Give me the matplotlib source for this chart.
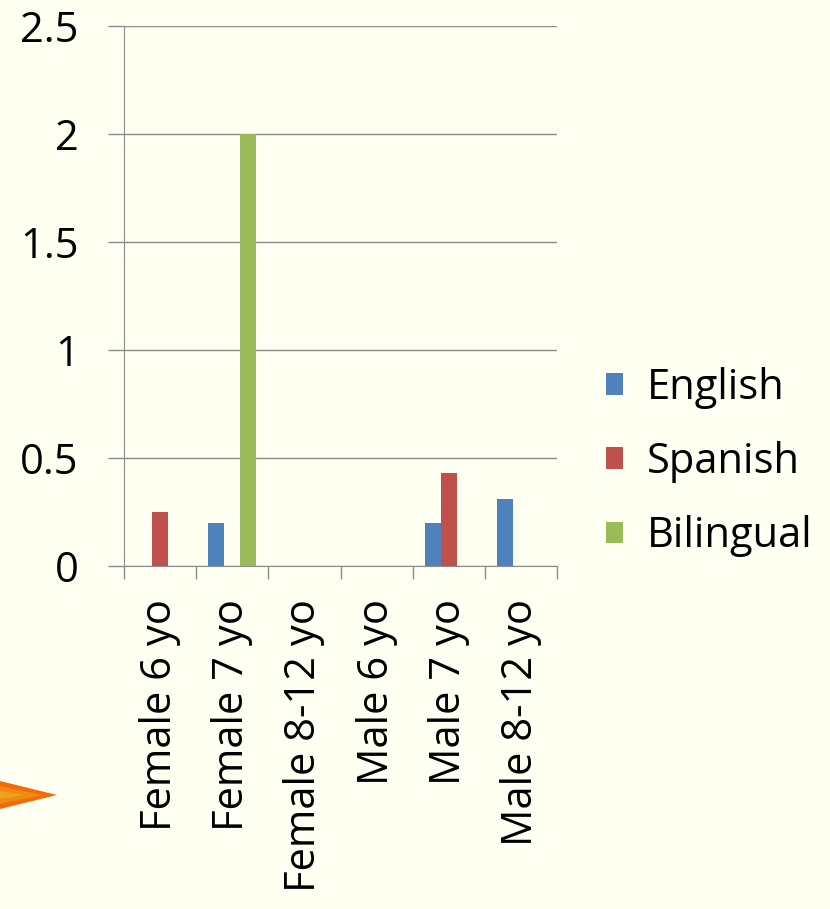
import numpy as np
import matplotlib
matplotlib.use("Agg")
import matplotlib.pyplot as plt
from matplotlib.patches import Polygon

# DATA
categories = ["Female 6 yo", "Female 7 yo", "Female 8-12 yo",
              "Male 6 yo", "Male 7 yo", "Male 8-12 yo"]
english   = [0, 0.2, 0, 0, 0.2, 0.31]
spanish   = [0.25, 0, 0, 0, 0.43, 0]
bilingual = [0, 2.0, 0, 0, 0, 0]
series_names = ["English", "Spanish", "Bilingual"]
yticks = [0, 0.5, 1, 1.5, 2, 2.5]
ytick_labels = ["0", "0.5", "1", "1.5", "2", "2.5"]

BG     = "#FFFFF2"
COLORS = ["#4F81BD", "#C0504D", "#9BBB59"]
GRID   = "#8C8C8C"
FS     = 30

plt.rcParams["font.family"] = ["Open Sans", "DejaVu Sans"]

fig = plt.figure(figsize=(8.30, 9.09), dpi=100, facecolor=BG)
ax = fig.add_axes([0.1494, 0.3773, 0.5217, 0.5941], facecolor=BG)

x = np.arange(len(categories))
w = 0.222
for i, (vals, name, col) in enumerate(zip([english, spanish, bilingual], series_names, COLORS)):
    ax.bar(x + (i - 1) * w, vals, width=w, color=col, label=name,
           edgecolor="none", zorder=3)

ax.set_xlim(-0.5, len(categories) - 0.5)
ax.set_ylim(0, 2.5)
ax.set_yticks(yticks)
ax.set_yticklabels(ytick_labels)
ax.yaxis.grid(True, color=GRID, lw=1.0)
ax.set_axisbelow(True)

# category separators as major ticks, labels on minor ticks
ax.set_xticks(np.arange(len(categories) + 1) - 0.5)
ax.set_xticklabels([])
ax.set_xticks(x, minor=True)
ax.set_xticklabels(categories, minor=True, rotation=90, fontsize=FS)
ax.tick_params(axis="x", which="minor", length=0, pad=24)
ax.tick_params(axis="x", which="major", length=9.5, color=GRID, width=1.0)
ax.tick_params(axis="y", length=11.5, color=GRID, width=1.0, labelsize=FS, pad=21)

for s in ["top", "right"]:
    ax.spines[s].set_visible(False)
ax.spines["left"].set_color(GRID)
ax.spines["bottom"].set_color(GRID)

ax.legend(loc="center left", bbox_to_anchor=(1.113, 0.1926), frameon=False,
          borderpad=0, borderaxespad=0,
          fontsize=FS, handlelength=0.41, handleheight=0.41, handletextpad=0.58,
          labelspacing=0.77)

# orange arrow decoration on the left
W, H = 830, 909
def fp(px, py):
    return (px / W, 1 - py / H)
for (dy, tip, col) in [(14, 57, "#F26B0A"), (9, 42, "#F08A12"), (4, 25, "#EFA020")]:
    fig.patches.append(Polygon([fp(0, 795 - dy), fp(tip, 795), fp(0, 795 + dy)],
                               closed=True, transform=fig.transFigure,
                               facecolor=col, edgecolor="none"))

fig.savefig("out.png", dpi=100, facecolor=BG)
